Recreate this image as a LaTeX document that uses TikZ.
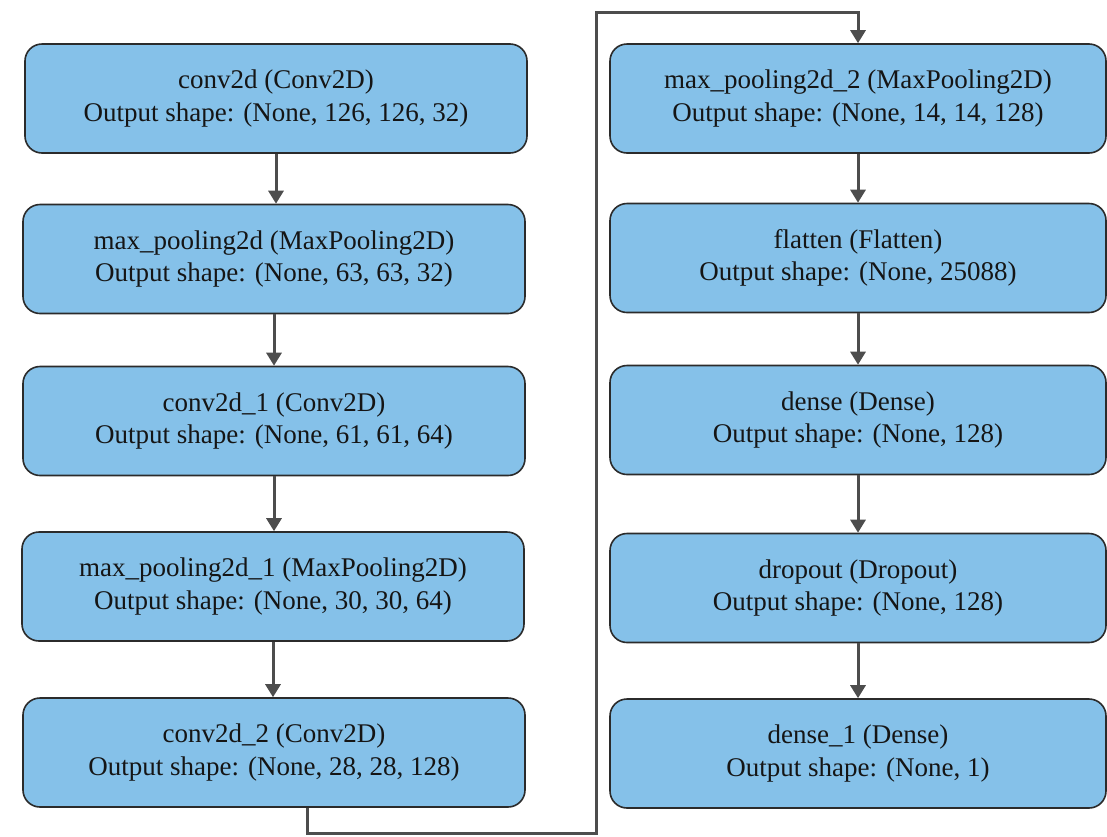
\documentclass[tikz,border=0pt]{standalone}
\usepackage{fontspec}
\setmainfont{Liberation Serif}
\usetikzlibrary{arrows.meta}
\definecolor{boxfill}{HTML}{85C1E9}
\definecolor{boxline}{HTML}{2B2B2B}
\definecolor{connline}{HTML}{4D4D4D}
\definecolor{txt}{HTML}{151515}
\begin{document}
\begin{tikzpicture}[x=1pt,y=-1pt,
  layer/.style={draw=boxline, line width=1.6pt, fill=boxfill, rounded corners=17pt,
    minimum height=109pt, inner sep=0pt, align=center, text=txt,
    font=\fontsize{27}{32.5}\selectfont},
  leftbox/.style={layer, minimum width=502pt},
  rightbox/.style={layer, minimum width=496pt},
  conn/.style={draw=connline, line width=3pt},
  arr/.style={conn, -{Triangle[length=13pt,width=15pt]}}]
\useasboundingbox (0,0) rectangle (1107,836);
\fill[white] (0,0) rectangle (1107,836);
\node[leftbox] (l1) at (276,98.5) {conv2d (Conv2D)\\Output shape: (None, 126, 126, 32)};
\node[leftbox] (l2) at (274,259) {max\_pooling2d (MaxPooling2D)\\Output shape: (None, 63, 63, 32)};
\node[leftbox] (l3) at (274,421) {conv2d\_1 (Conv2D)\\Output shape: (None, 61, 61, 64)};
\node[leftbox] (l4) at (273,586.5) {max\_pooling2d\_1 (MaxPooling2D)\\Output shape: (None, 30, 30, 64)};
\node[leftbox] (l5) at (274,752.5) {conv2d\_2 (Conv2D)\\Output shape: (None, 28, 28, 128)};
\node[rightbox] (r1) at (858,98.5) {max\_pooling2d\_2 (MaxPooling2D)\\Output shape: (None, 14, 14, 128)};
\node[rightbox] (r2) at (858,258) {flatten (Flatten)\\Output shape: (None, 25088)};
\node[rightbox] (r3) at (858,420) {dense (Dense)\\Output shape: (None, 128)};
\node[rightbox] (r4) at (858,588) {dropout (Dropout)\\Output shape: (None, 128)};
\node[rightbox] (r5) at (858,753.5) {dense\_1 (Dense)\\Output shape: (None, 1)};
\draw[arr] (l1.south) -- (l1.south |- l2.north);
\draw[arr] (l2.south) -- (l2.south |- l3.north);
\draw[arr] (l3.south) -- (l3.south |- l4.north);
\draw[arr] (l4.south) -- (l4.south |- l5.north);
\draw[arr] (r1) -- (r2);
\draw[arr] (r2) -- (r3);
\draw[arr] (r3) -- (r4);
\draw[arr] (r4) -- (r5);
\coordinate (bl) at (596,833);
\coordinate (tl) at (596,12);
\draw[arr, rounded corners=0pt] ([xshift=33pt]l5.south) |- (bl) |- (tl) -| (r1.north);
\end{tikzpicture}
\end{document}
